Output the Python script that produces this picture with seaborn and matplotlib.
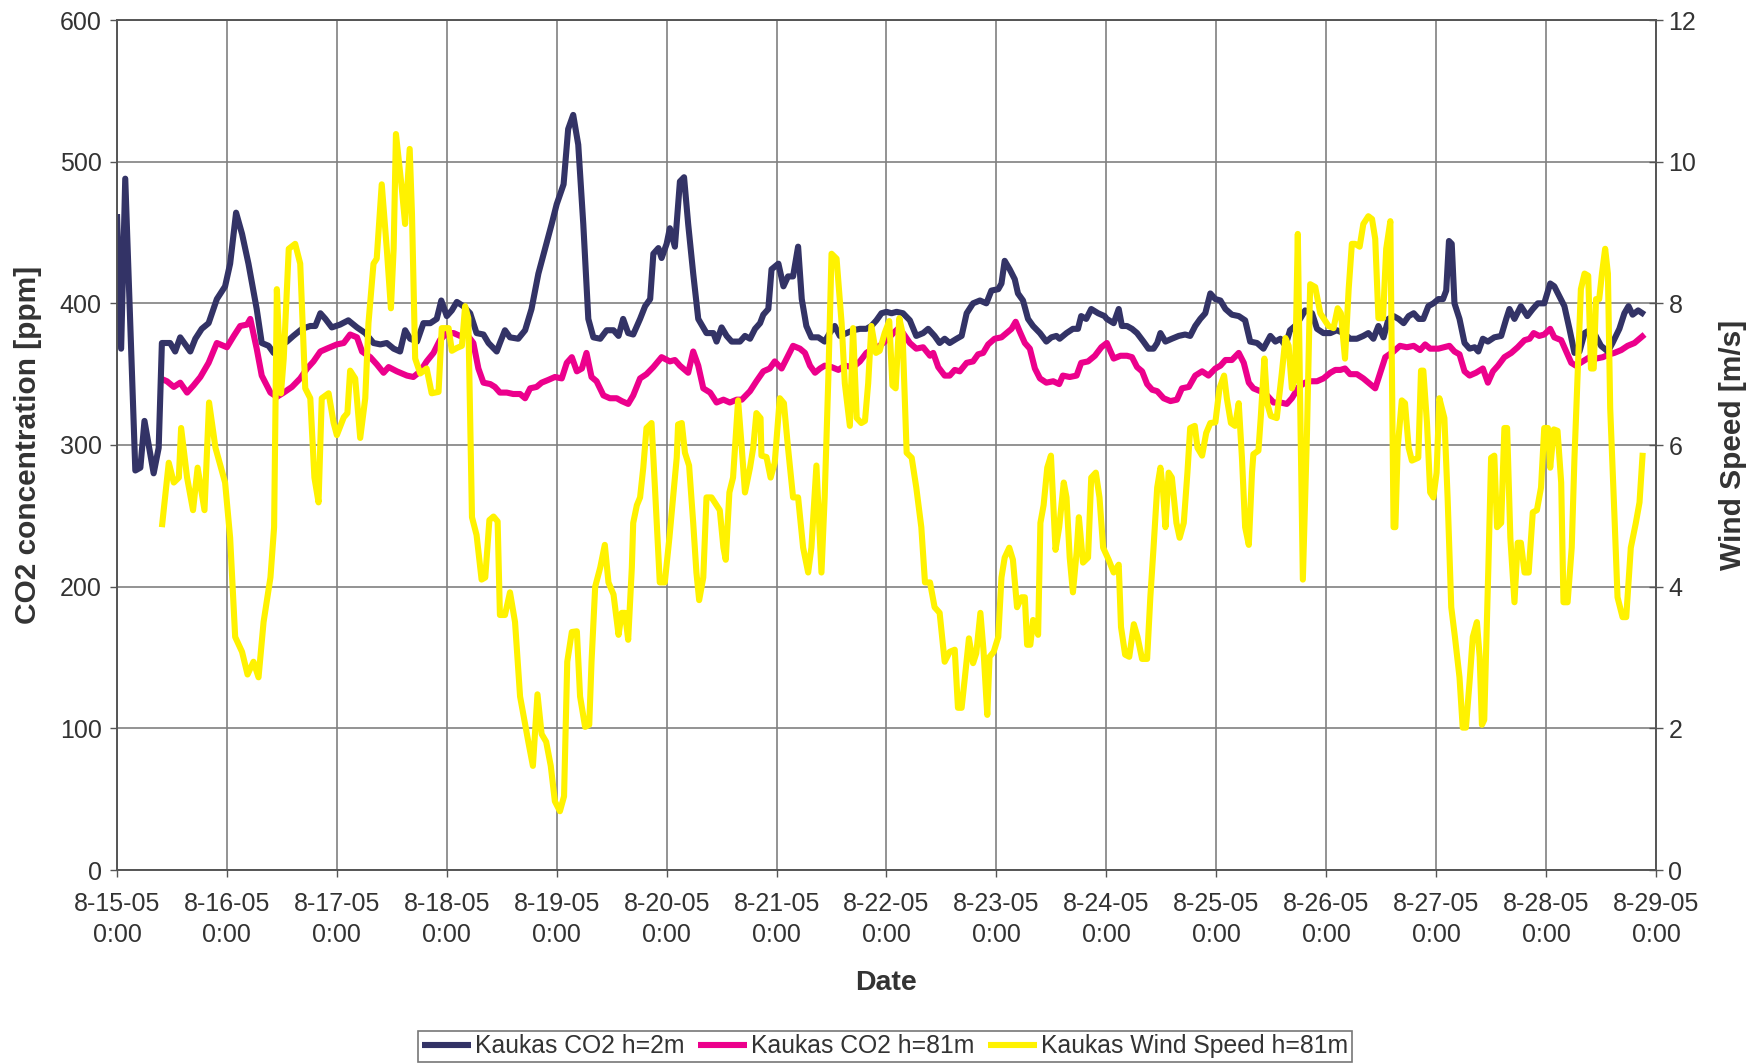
import pandas as pd
import numpy as np
import matplotlib.pyplot as plt
import seaborn as sns

# hours since 8-15-05 0:00
hours_2m = [0, 0.9, 1.8, 4.0, 5.1, 6.0, 8.0, 9.1, 9.8, 11.6, 12.7, 13.8, 16.0, 17.1, 18.5, 20.0, 21.8, 23.6,
            24.7, 26.0, 27.3, 28.7, 30.5, 31.6, 33.1, 34.2, 35.6, 37.1, 38.5, 40.4, 42.2, 43.3, 44.4, 45.5,
            46.9, 48.7, 50.5, 52.4, 54.2, 56.0, 57.5, 58.9, 60.4, 61.8, 62.9, 64.0, 65.5, 66.9, 68.4, 69.8,
            70.8, 72.0, 73.1, 74.2, 75.6, 77.1, 78.5, 80.0, 81.1, 82.9, 83.6, 84.7, 85.8, 87.6, 89.1, 90.5,
            92.0, 93.5, 94.9, 96.0, 97.5, 98.5, 99.6, 100.7, 101.8, 102.9, 104.0, 105.5, 106.9, 108.4, 109.5,
            110.5, 111.6, 112.7, 114.2, 115.3, 116.4, 117.1, 118.2, 118.9, 120.0, 120.7, 121.8, 122.9, 123.8,
            124.7, 125.8, 126.9, 128.7, 130.2, 130.9, 132.0, 133.1, 134.2, 136.0, 137.1, 138.2, 139.3, 140.4,
            141.1, 142.2, 142.9, 144.4, 145.5, 146.5, 147.6, 148.7, 149.5, 150.5, 151.6, 153.1, 154.5, 155.6,
            156.7, 157.8, 159.3, 160.7, 162.2, 163.6, 164.7, 165.8, 166.9, 168.0, 169.1, 170.2, 171.6, 173.1,
            174.5, 176.0, 177.1, 178.5, 179.6, 180.7, 181.8, 183.3, 184.4, 185.5, 186.9, 188.4, 189.8, 190.9,
            192.4, 193.1, 193.8, 194.9, 196.0, 196.7, 197.8, 198.9, 200.0, 201.5, 202.9, 204.0, 205.1, 205.8,
            207.3, 208.7, 209.8, 210.5, 211.6, 212.7, 214.2, 215.6, 216.1, 217.6, 218.7, 219.4, 220.5, 221.6,
            222.7, 224.1, 225.2, 226.3, 227.1, 227.8, 228.9, 230.3, 231.8, 233.2, 234.3, 235.4, 236.5, 237.6,
            238.7, 239.8, 240.9, 242.0, 243.4, 244.9, 246.3, 247.4, 248.9, 250.3, 251.8, 252.9, 254.0, 255.1,
            256.1, 257.2, 258.3, 259.4, 260.9, 262.0, 263.4, 264.9, 266.3, 267.8, 269.2, 270.7, 272.1, 273.2,
            274.3, 275.4, 276.5, 277.6, 278.7, 279.8, 280.9, 282.0, 283.1, 284.2, 285.2, 286.3, 287.4, 288.5,
            289.5, 290.2, 290.8, 291.4, 292.0, 293.1, 294.2, 295.3, 296.4, 297.2, 298.2, 299.3, 300.7, 302.2,
            303.3, 304.0, 305.1, 306.5, 307.9, 309.1, 310.2, 311.6, 312.9, 313.8, 314.9, 316.0, 317.1, 318.2,
            319.3, 320.4, 321.5, 322.5, 324.0, 325.5, 326.5, 328.0, 329.1, 330.0, 330.9, 332.1, 333.5]
co2_2m = [463, 368, 488, 282, 284, 317, 280, 298, 372, 372, 366, 376, 366, 375, 382, 386, 403, 412,
          428, 464, 449, 428, 396, 372, 370, 365, 370, 373, 377, 382, 384, 384, 393, 389,
          383, 385, 388, 383, 379, 372, 371, 372, 368, 366, 381, 375, 373, 386, 386, 389,
          402, 391, 395, 401, 398, 393, 379, 378, 372, 366, 372, 381, 376, 375, 381, 396,
          421, 439, 456, 470, 484, 523, 533, 512, 456, 389, 376, 375, 381, 381, 377,
          389, 379, 378, 389, 398, 403, 435, 439, 432, 442, 453, 440, 486, 489,
          456, 421, 389, 379, 379, 373, 383, 377, 373, 373, 377, 375, 382, 386,
          392, 396, 424, 428, 412, 419, 419, 440, 403, 384, 376, 376, 373, 379,
          384, 377, 379, 381, 382, 382, 384, 388, 393, 394, 393, 394, 393, 388,
          377, 379, 382, 377, 372, 375, 372, 375, 377, 393, 400, 402, 400, 409,
          410, 414, 430, 424, 417, 407, 402, 389, 384, 379, 373, 376, 377, 375,
          379, 382, 382, 391, 389, 396, 393, 391, 389, 386, 396, 384, 384, 382,
          379, 373, 368, 368, 372, 379, 373, 375, 377, 378, 377, 384, 389, 393,
          407, 403, 402, 396, 392, 391, 388, 373, 372, 368, 377, 373, 375, 370,
          381, 384, 389, 395, 393, 382, 379, 379, 381, 379, 375, 375, 377, 379,
          375, 384, 376, 389, 391, 389, 386, 391, 393, 389, 389, 398, 400, 403,
          403, 409, 444, 442, 400, 389, 372, 368, 369, 366, 375, 373, 376, 377,
          389, 396, 389, 398, 391, 396, 400, 400, 414, 412, 405, 398, 382, 365,
          366, 379, 381, 379, 370, 366, 372, 382, 393, 398, 392, 395, 392]

hours_81m = [9.5, 10.9, 12.4, 13.8, 15.3, 16.7, 18.2, 20.0, 21.8, 24.0, 25.5, 26.9, 28.4, 29.1, 30.5, 31.6,
             33.5, 34.9, 36.4, 38.2, 40.0, 41.5, 42.9, 44.4, 45.8, 48.0, 49.5, 50.9, 52.4, 53.5, 55.3, 56.7,
             58.2, 59.3, 61.1, 63.3, 64.7, 66.2, 67.6, 69.1, 70.5, 72.0, 73.5, 74.9, 76.4, 77.8, 78.9, 80.0,
             81.5, 82.5, 83.6, 85.1, 86.5, 88.0, 89.1, 90.2, 91.6, 92.7, 94.2, 95.6, 97.1, 98.2, 99.3, 100.4,
             101.5, 102.5, 103.6, 104.7, 106.2, 107.6, 109.1, 110.2, 111.6, 112.7, 114.2, 115.6, 117.1, 118.9,
             120.7, 121.8, 122.9, 124.7, 125.8, 126.9, 128.0, 129.5, 130.9, 132.4, 133.8, 135.3, 136.4, 138.2,
             139.6, 141.1, 142.5, 143.6, 145.1, 146.2, 147.6, 149.1, 150.2, 151.3, 152.4, 153.5, 154.5, 156.0,
             157.5, 158.9, 160.7, 162.2, 163.6, 165.1, 166.5, 168.0, 169.5, 170.5, 171.6, 173.1, 174.5, 176.0,
             177.5, 178.2, 179.3, 180.7, 181.8, 182.9, 184.0, 185.5, 186.9, 188.0, 189.1, 190.2, 191.6, 193.1,
             194.2, 195.3, 196.2, 197.1, 198.2, 199.3, 200.4, 201.5, 202.9, 204.4, 205.7, 206.5, 208.0, 209.5,
             210.5, 212.0, 213.5, 214.9, 216.1, 217.6, 219.1, 220.5, 221.6, 222.7, 223.8, 224.9, 226.0, 227.1,
             228.5, 230.0, 231.4, 232.5, 234.0, 235.4, 236.9, 238.3, 239.8, 240.9, 242.0, 243.4, 244.9, 246.0,
             247.1, 248.1, 249.6, 251.1, 252.5, 254.0, 255.4, 256.5, 258.0, 259.4, 260.5, 262.0, 263.4, 264.9,
             266.0, 267.1, 268.1, 269.2, 270.7, 272.1, 273.2, 274.7, 275.8, 276.9, 278.7, 280.1, 281.6, 283.1,
             284.5, 285.6, 286.7, 288.5, 290.9, 292.0, 293.1, 294.2, 295.3, 296.7, 298.2, 299.3, 300.4, 301.5,
             302.9, 304.4, 305.8, 307.3, 308.4, 309.3, 310.5, 311.6, 312.9, 313.8, 315.3, 316.4, 317.5, 318.5,
             320.0, 321.5, 322.9, 324.4, 325.8, 326.9, 328.4, 329.8, 331.3, 332.4, 333.5]
co2_81m = [347, 345, 341, 344, 337, 342, 348, 358, 372, 369, 377, 384, 385, 389, 368, 349,
           337, 334, 337, 341, 347, 354, 359, 366, 368, 371, 372, 378, 376, 366, 362, 357,
           351, 355, 352, 349, 348, 352, 359, 365, 374, 379, 379, 377, 378, 372, 354, 344,
           343, 341, 337, 337, 336, 336, 333, 340, 341, 344, 346, 348, 347, 358, 362, 352,
           354, 365, 348, 345, 335, 333, 333, 331, 329, 335, 347, 350, 355, 362,
           359, 360, 356, 351, 366, 356, 340, 337, 330, 332, 330, 332, 332, 338,
           345, 352, 354, 359, 354, 361, 370, 368, 365, 356, 351, 354, 356, 355,
           353, 356, 355, 359, 365, 368, 370, 374, 379, 382, 379, 372, 368, 369,
           363, 365, 355, 349, 349, 353, 352, 358, 359, 364, 365, 371, 375, 376,
           379, 382, 387, 380, 372, 368, 354, 347, 344, 345, 343, 349, 348, 349,
           358, 359, 363, 369, 372, 361, 363, 363, 362, 355, 352, 343, 339, 338,
           333, 331, 332, 340, 341, 349, 352, 349, 354, 356, 360, 360, 365, 358,
           344, 340, 338, 335, 330, 330, 329, 333, 341, 344, 345, 345, 347, 351,
           353, 353, 354, 350, 350, 347, 344, 340, 351, 362, 366, 370, 369, 370,
           367, 371, 368, 368, 370, 366, 364, 352, 349, 351, 354, 344, 352, 356,
           362, 365, 369, 374, 375, 379, 377, 378, 382, 376, 374, 366, 358, 356,
           359, 362, 361, 362, 364, 365, 367, 370, 372, 375, 378]

hours_wind = [9.8, 11.3, 12.4, 13.5, 14.0, 15.3, 16.6, 17.6, 19.1, 20.1, 21.5, 23.6, 24.7, 25.8, 27.3, 28.5,
              29.8, 30.9, 32.0, 33.5, 34.3, 34.9, 35.8, 36.4, 37.5, 38.9, 40.0, 41.1, 42.2, 43.1, 44.0, 44.7,
              46.2, 47.3, 48.0, 49.5, 50.3, 50.9, 52.0, 53.1, 54.2, 54.9, 56.0, 56.7, 57.8, 58.9, 59.8, 60.4,
              60.9, 62.2, 62.9, 63.9, 64.4, 65.1, 66.2, 67.6, 68.7, 70.2, 70.9, 72.4, 73.1, 74.2, 75.3, 76.0,
              76.7, 77.5, 78.5, 79.6, 80.4, 81.3, 82.2, 83.1, 83.6, 84.7, 85.8, 86.9, 88.0, 89.8, 90.8, 91.8,
              92.7, 93.7, 94.7, 95.6, 96.7, 97.6, 98.3, 99.3, 100.4, 101.1, 102.2, 103.1, 103.6, 104.4, 105.5,
              106.5, 107.3, 108.4, 109.5, 110.2, 110.9, 111.6, 112.4, 112.7, 113.5, 114.2, 114.9, 115.6, 116.7,
              117.5, 118.5, 119.6, 120.6, 121.5, 122.2, 122.5, 123.3, 124.0, 124.9, 125.8, 126.5, 127.1, 128.0,
              128.7, 129.8, 131.6, 132.4, 132.9, 133.7, 134.5, 135.6, 136.4, 137.1, 138.2, 138.9, 139.6, 140.5,
              140.7, 141.8, 142.7, 143.6, 144.7, 145.6, 146.5, 147.6, 148.7, 149.8, 150.9, 151.6, 152.7, 153.8,
              154.5, 155.3, 156.0, 157.1, 158.2, 158.9, 160.0, 160.7, 161.5, 162.5, 163.3, 164.0, 164.7, 165.7,
              166.5, 167.6, 168.6, 169.3, 170.0, 170.8, 171.5, 172.4, 173.5, 174.5, 175.6, 176.4, 177.5, 178.5,
              179.6, 180.7, 181.8, 182.9, 183.6, 184.4, 185.1, 186.0, 186.9, 187.6, 188.5, 189.2, 190.0, 190.5,
              191.4, 192.4, 193.1, 193.8, 194.8, 195.6, 196.5, 197.5, 198.2, 198.7, 199.4, 200.0, 201.1, 201.6,
              202.3, 203.1, 203.9, 204.4, 204.9, 205.7, 206.7, 207.3, 208.0, 208.7, 209.5, 210.0, 210.9, 212.0,
              212.7, 213.7, 214.5, 215.3, 216.5, 217.6, 218.7, 219.2, 220.1, 221.0, 222.0, 222.8, 223.8, 224.9,
              225.6, 226.3, 227.1, 227.8, 228.4, 228.9, 229.6, 230.3, 231.3, 232.0, 232.9, 233.7, 234.3, 235.3,
              235.9, 236.9, 237.8, 238.7, 239.8, 240.7, 241.7, 242.3, 243.2, 244.1, 244.9, 245.6, 246.3, 247.1,
              247.8, 248.1, 249.2, 249.7, 250.5, 251.1, 251.9, 253.2, 254.3, 255.1, 255.8, 256.5, 257.2, 257.8,
              258.3, 258.9, 259.8, 260.5, 261.6, 262.7, 263.4, 264.5, 265.6, 266.5, 267.2, 268.1, 268.9, 269.6,
              270.3, 271.3, 272.1, 273.2, 274.0, 274.7, 275.4, 276.4, 277.1, 278.0, 278.7, 279.1, 279.6, 280.5,
              281.2, 282.0, 282.7, 284.1, 284.7, 285.2, 286.0, 286.7, 287.4, 288.1, 288.7, 289.8, 290.5, 291.3,
              292.1, 293.1, 293.8, 294.5, 295.3, 296.0, 296.9, 297.5, 298.0, 298.5, 299.4, 300.0, 300.7, 301.3,
              302.2, 302.9, 303.5, 304.2, 305.1, 305.8, 306.5, 307.3, 308.2, 309.1, 310.0, 310.9, 311.6, 312.4,
              312.9, 313.7, 314.5, 315.3, 315.8, 316.7, 317.6, 318.2, 318.9, 319.6, 320.4, 321.2, 321.8, 322.4,
              322.9, 323.6, 324.2, 324.9, 325.5, 326.0, 326.9, 327.6, 328.7, 329.5, 330.5, 331.6, 332.4, 333.1]
wind_81m = [4.84, 5.75, 5.47, 5.54, 6.24, 5.54, 5.08, 5.68, 5.08, 6.6, 5.96, 5.47, 4.69, 3.29, 3.08, 2.76,
            2.94, 2.72, 3.5, 4.13, 4.84, 8.2, 6.73, 7.22, 8.77, 8.84, 8.56, 6.8, 6.66, 5.54, 5.19, 6.66,
            6.73, 6.31, 6.14, 6.39, 6.45, 7.05, 6.94, 6.1, 6.66, 7.72, 8.56, 8.63, 9.68, 8.77, 7.93, 8.77,
            10.39, 9.61, 9.12, 10.18, 9.26, 7.22, 7.01, 7.08, 6.73, 6.75, 7.65, 7.65, 7.33, 7.37, 7.4, 7.96,
            7.79, 4.98, 4.73, 4.1, 4.13, 4.94, 4.99, 4.92, 3.6, 3.6, 3.92, 3.5, 2.45, 1.81, 1.47, 2.48,
            1.92, 1.81, 1.47, 0.97, 0.83, 1.04, 2.94, 3.36, 3.37, 2.45, 2.02, 2.05, 2.94, 4.0, 4.27,
            4.59, 4.06, 3.89, 3.32, 3.63, 3.63, 3.25, 4.27, 4.9, 5.15, 5.26, 5.68, 6.24, 6.31,
            5.33, 4.06, 4.06, 4.69, 5.33, 5.82, 6.29, 6.31, 5.89, 5.71, 4.9, 4.2, 3.81, 4.13,
            5.26, 5.26, 5.08, 4.55, 4.38, 5.33, 5.54, 6.63, 5.96, 5.33, 5.68, 5.96, 6.45, 6.38,
            5.85, 5.83, 5.54, 5.75, 6.66, 6.59, 5.96, 5.26, 5.26, 4.55, 4.2, 4.55, 5.71, 4.2,
            5.26, 6.94, 8.7, 8.63, 7.72, 6.87, 6.27, 7.65, 6.38, 6.31, 6.34, 6.87, 7.68, 7.3,
            7.33, 7.58, 7.75, 6.84, 6.8, 7.79, 7.58, 5.89, 5.82, 5.4, 4.84, 4.06, 4.06, 3.71,
            3.63, 2.94, 3.08, 3.11, 2.29, 2.29, 2.71, 3.27, 2.92, 3.06, 3.63, 3.08, 2.19, 3.01,
            3.08, 3.29, 4.13, 4.41, 4.55, 4.38, 3.71, 3.85, 3.85, 3.18, 3.18, 3.53, 3.32, 4.9,
            5.15, 5.68, 5.85, 5.19, 4.52, 4.84, 5.47, 5.26, 4.41, 3.92, 4.48, 4.98, 4.34, 4.41,
            5.54, 5.61, 5.26, 4.55, 4.38, 4.2, 4.31, 3.43, 3.04, 3.01, 3.47, 3.29, 2.98, 2.98,
            3.85, 4.55, 5.4, 5.68, 5.33, 4.84, 5.61, 5.54, 4.9, 4.69, 4.9, 5.61, 6.24, 6.27,
            5.96, 5.85, 6.17, 6.31, 6.32, 6.8, 6.98, 6.66, 6.31, 6.27, 6.59, 5.82, 4.84, 4.59,
            5.61, 5.87, 5.92, 6.38, 7.22, 6.59, 6.41, 6.38, 7.01, 7.51, 7.4, 6.8, 6.94, 8.98,
            6.66, 4.1, 6.17, 8.27, 8.23, 7.86, 7.79, 7.68, 7.65, 7.93, 7.86, 7.22, 8.2, 8.84,
            8.84, 8.8, 9.12, 9.23, 9.19, 8.91, 7.79, 7.79, 8.77, 9.16, 4.84, 4.84, 5.96, 6.63,
            6.59, 5.96, 5.78, 5.82, 7.05, 7.05, 6.31, 5.33, 5.26, 5.61, 6.66, 6.38, 5.26, 3.71,
            3.29, 2.72, 2.01, 2.01, 2.66, 3.29, 3.5, 3.01, 2.05, 2.12, 4.27, 5.82, 5.85, 4.84,
            4.9, 6.24, 6.24, 4.69, 3.78, 4.62, 4.62, 4.2, 4.2, 5.05, 5.08, 5.4, 6.24, 6.24,
            5.68, 6.22, 6.2, 5.47, 3.78, 3.78, 4.55, 5.82, 7.01, 8.2, 8.42, 8.39, 7.08, 7.08,
            8.06, 8.06, 8.42, 8.77, 8.42, 6.52, 5.05, 3.85, 3.57, 3.57, 4.55, 4.9, 5.19, 5.89]

day_ticks = list(range(0, 15))  # 8-15 ... 8-29
start = pd.Timestamp('2005-08-15')
tick_labels = [f"{d.month}-{d.day}-{d.strftime('%y')}\n0:00" for d in pd.date_range(start, periods=15, freq='D')]

df_2m = pd.DataFrame({'hora': hours_2m, 'co2': co2_2m})
df_81m = pd.DataFrame({'hora': hours_81m, 'co2': co2_81m})
df_wind = pd.DataFrame({'hora': hours_wind, 'vento': wind_81m})

sns.set_style('white')
plt.rcParams['font.family'] = ['Liberation Sans', 'DejaVu Sans']
txt = '#333333'
grade = '#808080'

fig = plt.figure(figsize=(17.58, 10.64), dpi=100)
ax = fig.add_axes([117 / 1758, 1 - 870 / 1064, 1539 / 1758, 850 / 1064])
ax2 = ax.twinx()

lw = 4.4
sns.lineplot(data=df_2m, x='hora', y='co2', ax=ax, color='#333366', linewidth=lw, sort=False,
             estimator=None, label='Kaukas CO2 h=2m', legend=False, zorder=3)
sns.lineplot(data=df_81m, x='hora', y='co2', ax=ax, color='#EC008C', linewidth=lw, sort=False,
             estimator=None, label='Kaukas CO2 h=81m', legend=False, zorder=2)
sns.lineplot(data=df_wind, x='hora', y='vento', ax=ax2, color='#FFF200', linewidth=lw, sort=False,
             estimator=None, label='Kaukas Wind Speed h=81m', legend=False)
for l in ax.lines + ax2.lines:
    l.set_solid_joinstyle('round')
    l.set_solid_capstyle('butt')

ax.set_xlim(0, 336)
ax.set_ylim(0, 600)
ax2.set_ylim(0, 12)
ax.set_xticks([d * 24 for d in day_ticks])
ax.set_xticklabels(tick_labels, linespacing=1.35)
ax.set_yticks(range(0, 601, 100))
ax2.set_yticks(range(0, 13, 2))

ax.grid(True, color=grade, linewidth=1.2)
ax2.grid(False)
for a in (ax, ax2):
    for s in a.spines.values():
        s.set_color('#555555')
        s.set_linewidth(1.2)

ax.tick_params(axis='x', direction='out', length=5, width=1, color='#555555', pad=11, labelsize=18, labelcolor=txt)
ax.tick_params(axis='y', direction='out', length=5, width=1, color='#555555', pad=6, labelsize=18, labelcolor=txt)
ax2.tick_params(axis='y', direction='inout', length=10, width=1, color='#555555', pad=4, labelsize=18, labelcolor=txt)
ax.tick_params(bottom=True, left=True)
ax2.tick_params(right=True)

ax.set_xlabel('Date', fontsize=20.5, fontweight='bold', color=txt)
ax.set_ylabel('CO2 concentration [ppm]', fontsize=21.5, fontweight='bold', color=txt)
ax2.set_ylabel('Wind Speed [m/s]', fontsize=21.5, fontweight='bold', color=txt)
ax.xaxis.set_label_coords(0.5, -0.118)
ax.yaxis.set_label_coords(-0.049, 0.5)
ax2.yaxis.set_label_coords(1.041, 0.5)

handles = ax.lines + ax2.lines
leg = fig.legend(handles=handles, labels=[h.get_label() for h in handles], loc='lower center',
                 bbox_to_anchor=(885 / 1758, 2 / 1064), borderaxespad=0, ncol=3, fontsize=17.8,
                 frameon=True, fancybox=False, handlelength=2.0, handletextpad=0.15, columnspacing=0.55,
                 borderpad=0.15)
leg.get_frame().set_edgecolor('#555555')
leg.get_frame().set_linewidth(1.2)
for t in leg.get_texts():
    t.set_color(txt)

plt.savefig('out.png', dpi=100)
